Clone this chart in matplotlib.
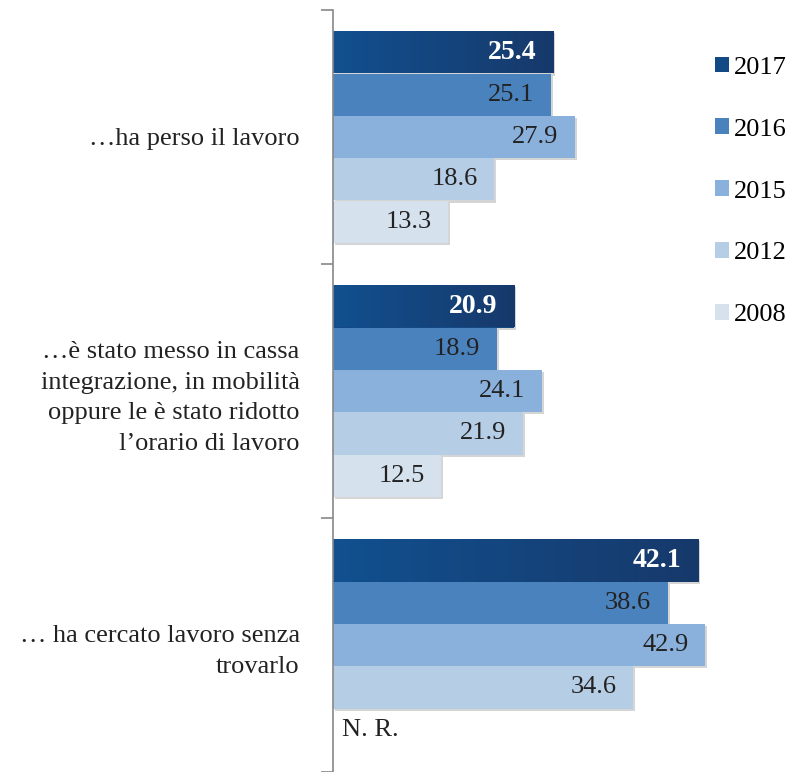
import matplotlib.pyplot as plt
import matplotlib.patheffects as pe
from matplotlib.patches import Patch
from matplotlib.colors import LinearSegmentedColormap
import numpy as np

plt.rcParams['font.family'] = ['Liberation Serif', 'DejaVu Serif']

categorie = ["\u2026ha perso il lavoro",
             "\u2026\u00e8 stato messo in cassa\nintegrazione, in mobilit\u00e0\noppure le \u00e8 stato ridotto\nl\u2019orario di lavoro",
             "\u2026 ha cercato lavoro senza\ntrovarlo"]
anni = ["2017", "2016", "2015", "2012", "2008"]
v2017 = [25.4, 20.9, 42.1]
v2016 = [25.1, 18.9, 38.6]
v2015 = [27.9, 24.1, 42.9]
v2012 = [18.6, 21.9, 34.6]
v2008 = [13.3, 12.5, None]   # N. R. nel terzo gruppo

serie = [v2017, v2016, v2015, v2012, v2008]
colori = ["#134a86", "#4a82be", "#8ab0dc", "#b6cde6", "#d6e1ee"]

fig = plt.figure(figsize=(7.94, 7.72), dpi=100)
ax = fig.add_axes([333/794, 0, 461/794, 762/772])

h = 1/6
y = np.arange(len(categorie))
ombra = [pe.SimplePatchShadow(offset=(1.5, -1.5), shadow_rgbFace='#888888', alpha=0.35), pe.Normal()]
cm = LinearSegmentedColormap.from_list("g", ["#11508f", "#17396b"])

for i, (vals, col, anno) in enumerate(zip(serie, colori, anni)):
    pos = y - 2*h + i*h
    vv = [v if v is not None else 0 for v in vals]
    bars = ax.barh(pos, vv, height=h, color=col, zorder=2)
    for b, v in zip(bars, vals):
        if v is None:
            b.set_visible(False)
            ax.text(1.0, b.get_y() + h/2, "N. R.", fontsize=19, color="#222222",
                    va="center", ha="left")
            continue
        b.set_path_effects(ombra)
        if i == 0:
            # sfumatura sulla barra 2017
            grad = np.linspace(0, 1, 256).reshape(1, -1)
            im = ax.imshow(grad, cmap=cm, aspect="auto", zorder=2.5,
                           extent=[0, v, b.get_y() + h, b.get_y()])
            im.set_clip_path(b)
            ax.annotate(f"{v:.1f}", (v, b.get_y() + h/2), xytext=(-12, 0),
                        textcoords="offset points", ha="right", va="center",
                        fontsize=20, fontweight="bold", color="white", zorder=3)
        else:
            ax.annotate(f"{v:.1f}", (v, b.get_y() + h/2), xytext=(-12, 0),
                        textcoords="offset points", ha="right", va="center",
                        fontsize=19, color="#222222", zorder=3)

ax.set_xlim(0, 461/8.67)
ax.set_ylim(2.5, -0.5)
ax.set_xticks([])
ax.set_yticks([-0.5, 0.5, 1.5, 2.5])
ax.set_yticklabels([])
ax.tick_params(axis='y', which='major', length=9, width=1.2, color="#888888")
ax.set_yticks(y, minor=True)
ax.set_yticklabels(categorie, minor=True, fontsize=19, color="#222222", linespacing=1.5)
ax.tick_params(axis='y', which='minor', length=0, pad=24)
for s in ["top", "right", "bottom"]:
    ax.spines[s].set_visible(False)
ax.spines["left"].set_color("#888888")
ax.spines["left"].set_linewidth(1.2)

maniglie = [Patch(facecolor=c, label=a) for c, a in zip(colori, anni)]
fig.legend(handles=maniglie, loc="upper left", bbox_to_anchor=(704/794, 1 - 46/772),
           frameon=False, fontsize=19, handlelength=0.55, handleheight=0.55,
           handletextpad=0.2, labelspacing=1.5, borderaxespad=0)

fig.savefig("out.png", dpi=100)
